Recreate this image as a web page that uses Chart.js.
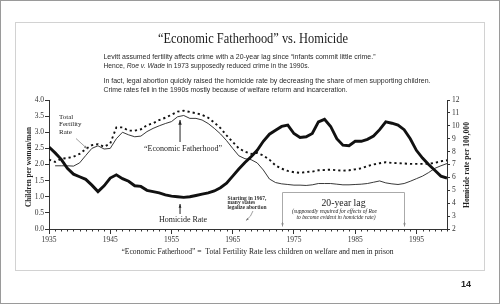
<!DOCTYPE html>
<html>
<head>
<meta charset="utf-8">
<script src="https://cdn.jsdelivr.net/npm/chart.js@4.4.1/dist/chart.umd.min.js"></script>
<style>
  html, body { margin: 0; padding: 0; background: #fff; }
  canvas { display: block; }
</style>
</head>
<body>
<canvas id="chart" width="500" height="304"></canvas>
<script>
// Years on the x axis
const years = [
  1935, 1936, 1937, 1938, 1939, 1940, 1941, 1942, 1943, 1944,
  1945, 1946, 1947, 1948, 1949, 1950, 1951, 1952, 1953, 1954,
  1955, 1956, 1957, 1958, 1959, 1960, 1961, 1962, 1963, 1964,
  1965, 1966, 1967, 1968, 1969, 1970, 1971, 1972, 1973, 1974,
  1975, 1976, 1977, 1978, 1979, 1980, 1981, 1982, 1983, 1984,
  1985, 1986, 1987, 1988, 1989, 1990, 1991, 1992, 1993, 1994,
  1995, 1996, 1997, 1998, 1999, 2000
];

// Total Fertility Rate (children per woman) - dotted line, left axis
const tfr = [
  2.15, 2.08, 2.18, 2.20, 2.24, 2.33, 2.48, 2.60, 2.63, 2.55,
  2.65, 3.15, 3.15, 3.05, 3.05, 3.09, 3.22, 3.28, 3.38, 3.45,
  3.54, 3.64, 3.67, 3.63, 3.59, 3.54, 3.45, 3.30, 3.13, 2.90,
  2.70, 2.50, 2.40, 2.33, 2.36, 2.28, 2.15, 1.97, 1.87, 1.80,
  1.76, 1.74, 1.77, 1.78, 1.82, 1.83, 1.84, 1.82, 1.81, 1.82,
  1.85, 1.88, 1.95, 2.00, 2.04, 2.07, 2.05, 2.04, 2.03, 2.02,
  2.02, 2.02, 2.02, 2.05, 2.10, 2.13
];

// "Economic Fatherhood" (children per man) - thin solid line, left axis
const econFatherhood = [
  null, 1.96, 1.96, 1.96, 1.95, 2.05, 2.28, 2.50, 2.58, 2.48,
  2.50, 2.80, 3.00, 2.92, 2.86, 2.88, 3.02, 3.12, 3.20, 3.27,
  3.33, 3.48, 3.52, 3.43, 3.43, 3.38, 3.27, 3.12, 2.95, 2.74,
  2.50, 2.27, 2.18, 2.15, 2.05, 1.83, 1.55, 1.44, 1.40, 1.38,
  1.36, 1.36, 1.35, 1.37, 1.41, 1.41, 1.41, 1.39, 1.37, 1.37,
  1.38, 1.39, 1.41, 1.45, 1.49, 1.43, 1.40, 1.38, 1.41, 1.48,
  1.56, 1.64, 1.75, 1.88, 1.96, 2.03
];

// Homicide rate per 100,000 - thick line, right axis
const homicide = [
  8.35, 7.90, 7.40, 6.70, 6.25, 6.05, 5.85, 5.40, 4.90, 5.35,
  5.95, 6.20, 5.90, 5.70, 5.35, 5.30, 5.00, 4.90, 4.80, 4.65,
  4.55, 4.50, 4.45, 4.50, 4.60, 4.70, 4.80, 4.95, 5.20, 5.55,
  6.10, 6.65, 7.15, 7.60, 8.10, 8.80, 9.35, 9.65, 9.95, 10.05,
  9.40, 9.10, 9.15, 9.40, 10.30, 10.50, 9.95, 9.00, 8.50, 8.46,
  8.80, 8.80, 8.95, 9.20, 9.70, 10.30, 10.20, 10.05, 9.70, 9.00,
  8.10, 7.50, 7.00, 6.55, 6.10, 5.95
];

const majorYears = [1935, 1945, 1955, 1965, 1975, 1985, 1995];
const lagStart = 1973;
const lagEnd = 1993;
const legalizeYear = 1967;
const peakYear = 1956.4;

const SERIF = '"Liberation Serif", "DejaVu Serif", serif';
const SANS = '"Liberation Sans", Arial, sans-serif';

function pts(vals) {
  return years.map((yr, i) => ({ x: yr, y: vals[i] }));
}

function arrow(ctx, x1, y1, x2, y2, color, width, head) {
  ctx.save();
  ctx.strokeStyle = color;
  ctx.fillStyle = color;
  ctx.lineWidth = width;
  ctx.beginPath();
  ctx.moveTo(x1, y1);
  ctx.lineTo(x2, y2);
  ctx.stroke();
  const a = Math.atan2(y2 - y1, x2 - x1);
  ctx.beginPath();
  ctx.moveTo(x2, y2);
  ctx.lineTo(x2 - head * Math.cos(a - 0.35), y2 - head * Math.sin(a - 0.35));
  ctx.lineTo(x2 - head * Math.cos(a + 0.35), y2 - head * Math.sin(a + 0.35));
  ctx.closePath();
  ctx.fill();
  ctx.restore();
}

function text(ctx, str, x, y, font, align, color, maxW) {
  ctx.save();
  ctx.font = font;
  ctx.textAlign = align;
  ctx.textBaseline = 'middle';
  ctx.fillStyle = color;
  if (maxW) ctx.fillText(str, x, y, maxW);
  else ctx.fillText(str, x, y);
  ctx.restore();
}

// runs: [[text, italic], ...] squeezed to width w
function runs(ctx, parts, x, y, size, family, color, w) {
  ctx.save();
  ctx.textBaseline = 'middle';
  ctx.fillStyle = color;
  let total = 0;
  parts.forEach(p => {
    ctx.font = (p[1] ? 'italic ' : '') + size + 'px ' + family;
    total += ctx.measureText(p[0]).width;
  });
  const k = Math.min(1, w / total);
  ctx.translate(x, y);
  ctx.scale(k, 1);
  let cx = 0;
  parts.forEach(p => {
    ctx.font = (p[1] ? 'italic ' : '') + size + 'px ' + family;
    ctx.fillText(p[0], cx, 0);
    cx += ctx.measureText(p[0]).width;
  });
  ctx.restore();
}

const decor = {
  id: 'decor',
  beforeDraw(chart) {
    const ctx = chart.ctx;
    ctx.save();
    ctx.fillStyle = '#fff';
    ctx.fillRect(0, 0, chart.width, chart.height);
    ctx.strokeStyle = '#9a9a9a';
    ctx.lineWidth = 1;
    ctx.strokeRect(0.5, 0.5, chart.width - 1, chart.height - 1);
    ctx.strokeStyle = '#d2d2d2';
    ctx.strokeRect(15.5, 22.5, 469, 248);
    ctx.restore();
  },
  afterDraw(chart) {
    const ctx = chart.ctx;
    const xs = chart.scales.x;
    const area = chart.chartArea;
    const dark = '#222';

    // minor year ticks
    ctx.save();
    ctx.strokeStyle = '#333';
    ctx.lineWidth = 1;
    years.forEach(yr => {
      if (majorYears.includes(yr)) return;
      const px = Math.round(xs.getPixelForValue(yr)) + 0.5;
      ctx.beginPath();
      ctx.moveTo(px, area.bottom);
      ctx.lineTo(px, area.bottom + 2.5);
      ctx.stroke();
    });
    ctx.restore();

    // title and intro text
    text(ctx, '\u201CEconomic Fatherhood\u201D vs. Homicide', 253, 39, '14px ' + SERIF, 'center', '#1a1a1a', 190);
    runs(ctx, [['Levitt assumed fertility affects crime with a 20-year lag since \u201Cinfants commit little crime.\u201D', false]], 103.5, 57, 7.3, SANS, '#2a2a2a', 272);
    runs(ctx, [['Hence, ', false], ['Roe v. Wade', true], [' in 1973 supposedly reduced crime in the 1990s.', false]], 103.5, 66, 7.3, SANS, '#2a2a2a', 206);
    runs(ctx, [['In fact, legal abortion quickly raised the homicide rate by decreasing the share of men supporting children.', false]], 103.5, 81, 7.3, SANS, '#2a2a2a', 327);
    runs(ctx, [['Crime rates fell in the 1990s mostly because of welfare reform and incarceration.', false]], 103.5, 89.5, 7.3, SANS, '#2a2a2a', 244);

    // axis titles
    ctx.save();
    ctx.translate(28.5, 167);
    ctx.rotate(-Math.PI / 2);
    text(ctx, 'Children per woman/man', 0, 0, 'bold 8.5px ' + SERIF, 'center', dark, 80);
    ctx.restore();
    ctx.save();
    ctx.translate(467, 165);
    ctx.rotate(-Math.PI / 2);
    text(ctx, 'Homicide rate per 100,000', 0, 0, 'bold 8.5px ' + SERIF, 'center', dark, 86);
    ctx.restore();

    // Total Fertility Rate label
    text(ctx, 'Total', 59, 117, '7px ' + SERIF, 'left', dark);
    text(ctx, 'Fertility', 59, 124.5, '7px ' + SERIF, 'left', dark);
    text(ctx, 'Rate', 59, 132, '7px ' + SERIF, 'left', dark);
    arrow(ctx, 76, 138.5, 87.5, 149, '#888', 0.8, 4);

    // Economic Fatherhood label
    const pk = xs.getPixelForValue(peakYear);
    text(ctx, '\u201CEconomic Fatherhood\u201D', 183, 149, '8px ' + SERIF, 'center', dark, 80);
    arrow(ctx, pk, 142, pk, 120, dark, 1, 5);

    // Homicide Rate label
    text(ctx, 'Homicide Rate', 183, 219.5, '8px ' + SERIF, 'center', dark, 50);
    arrow(ctx, pk, 214, pk, 204, dark, 1, 4);

    // Starting in 1967 note
    text(ctx, 'Starting in 1967,', 227.5, 198.5, 'bold 5.5px ' + SERIF, 'left', '#333', 49);
    text(ctx, 'many states', 227.5, 202.8, 'bold 5.5px ' + SERIF, 'left', '#333', 38);
    text(ctx, 'legalize abortion', 227.5, 207.1, 'bold 5.5px ' + SERIF, 'left', '#333', 46);
    const lx = xs.getPixelForValue(legalizeYear);
    ctx.save();
    ctx.strokeStyle = '#777';
    ctx.lineWidth = 0.7;
    ctx.beginPath();
    ctx.moveTo(lx + 8, 211);
    ctx.quadraticCurveTo(lx + 6, 217, lx + 2, 219.5);
    ctx.stroke();
    ctx.restore();
    arrow(ctx, lx + 3, 218.8, lx + 1, 220.5, '#777', 0.7, 3);

    // 20-year lag bracket
    const a1 = Math.round(xs.getPixelForValue(lagStart)) + 0.5;
    const a2 = Math.round(xs.getPixelForValue(lagEnd)) + 0.5;
    ctx.save();
    ctx.strokeStyle = '#aaa';
    ctx.lineWidth = 1;
    ctx.beginPath();
    ctx.moveTo(a1, 224);
    ctx.lineTo(a1, 192.5);
    ctx.lineTo(a2, 192.5);
    ctx.lineTo(a2, 224);
    ctx.stroke();
    ctx.restore();
    arrow(ctx, a1, 222, a1, 226.5, '#888', 0.8, 3.5);
    arrow(ctx, a2, 222, a2, 226.5, '#888', 0.8, 3.5);
    const mid = (a1 + a2) / 2;
    text(ctx, '20-year lag', mid, 203.5, '10px ' + SERIF, 'center', '#1a1a1a', 44);
    runs(ctx, [['(supposedly required for effects of ', true], ['Roe', true]], mid - 51.5, 211.5, 5.5, SERIF, dark, 103);
    runs(ctx, [['to become evident in homicide rate)', true]], mid - 47, 218, 5.5, SERIF, dark, 94);

    // footnote
    text(ctx, '\u201CEconomic Fatherhood\u201D =  Total Fertility Rate less children on welfare and men in prison', 257.5, 252, '8px ' + SERIF, 'center', dark, 272);

    // page number
    text(ctx, '14', 466, 285, 'bold 9px ' + SANS, 'center', '#222');
  }
};

const tickFont = { family: SERIF, size: 7.5 };

new Chart(document.getElementById('chart'), {
  type: 'line',
  data: {
    datasets: [
      {
        label: 'Homicide Rate',
        data: pts(homicide),
        yAxisID: 'yR',
        borderColor: '#111',
        borderWidth: 2.9,
        pointRadius: 0,
        tension: 0,
        order: 0
      },
      {
        label: 'Economic Fatherhood',
        data: pts(econFatherhood),
        yAxisID: 'yL',
        borderColor: '#222',
        borderWidth: 0.9,
        pointRadius: 0,
        tension: 0,
        spanGaps: false,
        order: 1
      },
      {
        label: 'Total Fertility Rate',
        data: pts(tfr),
        yAxisID: 'yL',
        borderColor: '#111',
        borderWidth: 1.9,
        borderDash: [2.2, 3],
        pointRadius: 0,
        tension: 0,
        order: 2
      }
    ]
  },
  options: {
    responsive: false,
    animation: false,
    devicePixelRatio: 1,
    layout: { padding: { top: 100, left: 15, right: 25, bottom: 30 } },
    plugins: {
      legend: { display: false },
      tooltip: { enabled: false }
    },
    scales: {
      x: {
        type: 'linear',
        min: 1935,
        max: 2000,
        afterBuildTicks: s => { s.ticks = majorYears.map(v => ({ value: v })); },
        afterFit: s => { s.height = 45; },
        grid: { drawOnChartArea: false, tickLength: 5, color: '#333' },
        border: { color: '#333', width: 1 },
        ticks: { font: tickFont, color: '#333', padding: 2, maxRotation: 0, autoSkip: false, callback: v => String(v) }
      },
      yL: {
        position: 'left',
        min: 0,
        max: 4,
        afterFit: s => { s.width = 34; },
        grid: { drawOnChartArea: false, tickLength: 4, color: '#333' },
        border: { color: '#333', width: 1 },
        ticks: { stepSize: 0.5, font: tickFont, color: '#333', padding: 1, callback: v => v.toFixed(1) }
      },
      yR: {
        position: 'right',
        min: 2,
        max: 12,
        afterFit: s => { s.width = 28; },
        grid: { drawOnChartArea: false, tickLength: 3, color: '#333' },
        border: { color: '#333', width: 1 },
        ticks: { stepSize: 1, font: tickFont, color: '#333', padding: 2 }
      }
    }
  },
  plugins: [decor]
});
</script>
</body>
</html>
